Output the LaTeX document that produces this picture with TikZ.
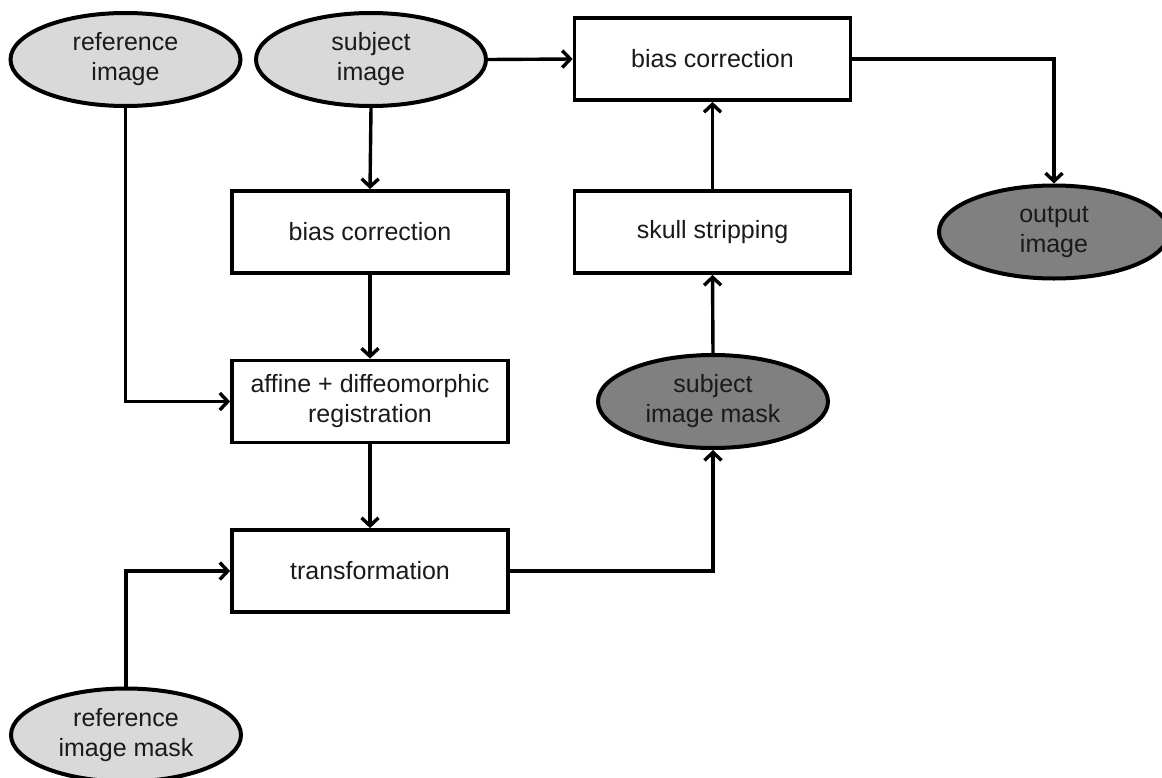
\documentclass[tikz,border=0pt]{standalone}
\usepackage{fontspec}
\setmainfont{Liberation Sans}
\usetikzlibrary{shapes.geometric,arrows.meta}
\definecolor{lightfill}{HTML}{D9D9D9}
\definecolor{darkfill}{HTML}{808080}
\definecolor{txt}{HTML}{1A1A1A}
\tikzset{
  procbox/.style={draw=black, line width=3.8pt, fill=white, rectangle,
    minimum width=276pt, minimum height=82pt, inner sep=0pt, align=center,
    text=txt, font=\fontsize{25}{30}\selectfont},
  ellbase/.style={draw=black, line width=4pt, ellipse, inner sep=0pt,
    minimum width=230pt, minimum height=93pt, align=center, text=txt,
    font=\fontsize{25}{30}\selectfont},
  inell/.style={ellbase, fill=lightfill},
  outell/.style={ellbase, fill=darkfill},
  arr/.style={draw=black, line width=3.4pt, line join=miter,
    -{Straight Barb[length=8pt,width=17pt]}}
}
\begin{document}
\begin{tikzpicture}[x=1pt,y=-1pt]
\useasboundingbox (0,0) rectangle (1162,777);
\begin{scope}
\clip (0,0) rectangle (1162,777);
\node[inell] (refimg) at (125.5,59.5) {reference\\image};
\node[inell] (subimg) at (371,59.5) {subject\\image};
\node[procbox] (topbias) at (712.5,59) {bias correction};
\node[procbox] (bias1) at (370,232) {bias correction};
\node[procbox] (skull) at (712.5,232) {skull stripping};
\node[outell] (output) at (1054,232) {output\\image};
\node[procbox] (affine) at (370,401.5) {affine + diffeomorphic\\registration};
\node[outell] (submask) at (713,401.5) {subject\\image mask};
\node[procbox] (transf) at (370,571) {transformation};
\node[inell] (refmask) at (126,735) {reference\\image mask};

\draw[arr] (refimg.south) |- (affine.west);
\draw[arr] (subimg.south) -- (bias1.north);
\draw[arr] (bias1.south) -- (affine.north);
\draw[arr] (affine.south) -- (transf.north);
\draw[arr] (refmask.north) |- (transf.west);
\draw[arr] (transf.east) -| (submask.south);
\draw[arr] (submask.north) -- (skull.south);
\draw[arr] (skull.north) -- (topbias.south);
\draw[arr] (subimg.east) -- (topbias.west);
\draw[arr] (topbias.east) -| (output.north);
\end{scope}
\end{tikzpicture}
\end{document}
